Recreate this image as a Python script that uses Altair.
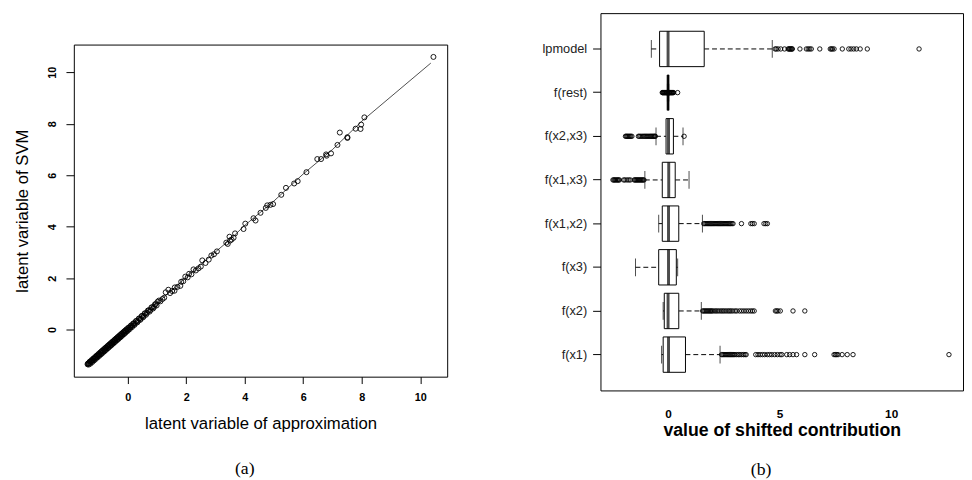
import altair as alt
import pandas as pd

FONT = "Liberation Sans"
SERIF = "Liberation Serif"

# ---------------- panel (a): scatter ----------------
dense_x = [-1.37, -1.34, -1.31, -1.28, -1.25, -1.22, -1.19, -1.16, -1.13, -1.1, -1.07, -1.04, -1.01, -0.98, -0.95,
           -0.92, -0.89, -0.86, -0.83, -0.8, -0.77, -0.74, -0.71, -0.68, -0.65, -0.62, -0.59, -0.56, -0.53, -0.5,
           -0.47, -0.44, -0.41, -0.38, -0.35, -0.32, -0.29, -0.26, -0.23, -0.2, -0.17, -0.14, -0.11, -0.08, -0.05,
           -0.02, 0.01, 0.05, 0.09, 0.13, 0.17, 0.21, 0.25, 0.3, 0.35, 0.4, 0.45, 0.5, 0.55, 0.6, 0.66, 0.72,
           0.78, 0.84, 0.9, 0.96]
dense_y = [-1.35, -1.31, -1.3, -1.25, -1.24, -1.2, -1.19, -1.13, -1.13, -1.08, -1.07, -1.01, -1.01, -0.95, -0.97,
           -0.88, -0.91, -0.82, -0.85, -0.76, -0.79, -0.7, -0.73, -0.64, -0.67, -0.58, -0.61, -0.52, -0.55, -0.46,
           -0.49, -0.4, -0.43, -0.34, -0.37, -0.28, -0.31, -0.22, -0.25, -0.16, -0.19, -0.1, -0.13, -0.04, -0.07,
           0.02, -0.01, 0.08, 0.08, 0.16, 0.15, 0.24, 0.23, 0.33, 0.33, 0.43, 0.42, 0.53, 0.53, 0.63, 0.65, 0.75,
           0.76, 0.87, 0.88, 0.99]
dense2_x = [-1.36, -1.33, -1.3, -1.27, -1.24, -1.21, -1.18, -1.15, -1.12, -1.09, -1.06, -1.03, -1.0, -0.97, -0.94,
            -0.91, -0.88, -0.85, -0.82, -0.79, -0.76, -0.73, -0.7, -0.67, -0.64, -0.61, -0.58, -0.55, -0.52, -0.49,
            -0.46, -0.43, -0.4, -0.37, -0.34, -0.31, -0.28, -0.25, -0.22, -0.19, -0.16, -0.13, -0.1, -0.07, -0.04,
            0.0, 0.03, 0.07, 0.11, 0.15, 0.19, 0.23, 0.28, 0.33, 0.38, 0.43, 0.48, 0.53, 0.58, 0.63, 0.69, 0.75,
            0.81, 0.87, 0.93, 0.99]
dense2_y = [-1.32, -1.36, -1.25, -1.32, -1.19, -1.26, -1.13, -1.2, -1.07, -1.14, -1.01, -1.08, -0.95, -1.02, -0.89,
            -0.96, -0.83, -0.9, -0.77, -0.84, -0.71, -0.78, -0.65, -0.72, -0.59, -0.66, -0.53, -0.6, -0.47, -0.54,
            -0.41, -0.48, -0.35, -0.42, -0.29, -0.36, -0.23, -0.3, -0.17, -0.24, -0.11, -0.18, -0.05, -0.12, 0.01,
            -0.05, 0.08, 0.02, 0.16, 0.1, 0.24, 0.18, 0.33, 0.28, 0.43, 0.38, 0.53, 0.48, 0.63, 0.58, 0.74, 0.7,
            0.86, 0.82, 0.98, 0.94]
sparse_x = [1.02, 1.07, 1.12, 1.19, 1.25, 1.3, 1.39, 1.45, 1.52, 1.6, 1.61, 1.7, 1.8, 1.83, 1.9, 1.97, 2.05, 2.1,
            2.18, 2.25, 2.33, 2.42, 2.5, 2.55, 2.66, 2.77, 2.86, 2.95, 3.05, 3.37, 3.42, 3.48, 3.5, 3.55, 3.62,
            3.67, 3.96, 4.02, 4.3, 4.37, 4.54, 4.72, 4.77, 4.88, 4.97, 5.25, 5.41, 5.69, 5.81, 6.11, 6.48, 6.61,
            6.78, 6.8, 6.95, 7.17, 7.25, 7.51, 7.51, 7.79, 7.96, 7.98, 8.09, 10.45]
sparse_y = [1.08, 1.13, 1.1, 1.19, 1.24, 1.45, 1.55, 1.42, 1.5, 1.51, 1.64, 1.66, 1.7, 1.86, 1.88, 2.06, 2.03, 2.17,
            2.15, 2.34, 2.3, 2.38, 2.45, 2.69, 2.59, 2.72, 2.88, 2.93, 3.04, 3.38, 3.33, 3.61, 3.46, 3.5, 3.57,
            3.74, 3.91, 4.12, 4.33, 4.24, 4.54, 4.73, 4.83, 4.85, 4.88, 5.24, 5.51, 5.68, 5.77, 6.12, 6.63, 6.63,
            6.81, 6.76, 6.85, 7.18, 7.66, 7.48, 7.45, 7.81, 7.8, 7.97, 8.25, 10.6]
line_x = [-1.37, 1.0, 2.0, 3.0, 3.5, 4.0, 5.0, 6.0, 7.0, 8.0, 10.36]
line_y = [-1.36, 1.02, 2.03, 3.02, 3.5, 4.05, 5.0, 6.05, 7.0, 8.1, 10.36]
left_ticks = [0, 2, 4, 6, 8, 10]

# ---------------- panel (b): boxplots ----------------
categories = ["lpmodel", "f(rest)", "f(x2,x3)", "f(x1,x3)", "f(x1,x2)", "f(x3)", "f(x2)", "f(x1)"]
whisker_lo = [-0.75, -0.03, -0.54, -1.04, -0.42, -1.46, -0.22, -0.29]
q1 = [-0.38, -0.02, -0.09, -0.26, -0.26, -0.42, -0.17, -0.22]
median = [0.0, 0.0, 0.02, 0.03, 0.02, 0.02, 0.0, 0.02]
q3 = [1.62, 0.02, 0.24, 0.32, 0.48, 0.37, 0.48, 0.78]
whisker_hi = [4.67, 0.03, 0.67, 0.94, 1.54, 0.43, 1.49, 2.33]

out_lpmodel = [4.8, 4.85, 4.93, 5.05, 5.22, 5.38, 5.42, 5.45, 5.48, 5.52, 5.55, 5.57, 5.91, 6.2, 6.28, 6.35, 6.42,
               6.8, 7.27, 7.32, 7.37, 7.44, 7.81, 8.1, 8.2, 8.32, 8.44, 8.61, 8.93, 11.25]
out_rest = [-0.26, -0.24, -0.22, -0.2, -0.18, -0.16, -0.14, -0.12, -0.1, -0.08, -0.06, -0.05, -0.04, 0.04, 0.05,
            0.06, 0.08, 0.1, 0.12, 0.14, 0.16, 0.18, 0.2, 0.22, 0.25, 0.43]
out_x2x3 = [-1.91, -1.87, -1.83, -1.79, -1.75, -1.71, -1.67, -1.62, -1.33, -1.28, -1.22, -1.16, -1.1, -1.05, -1.0,
            -0.95, -0.9, -0.85, -0.8, -0.76, -0.72, -0.68, -0.64, -0.6, -0.57, 0.72]
out_x1x3 = [-2.47, -2.43, -2.39, -2.35, -2.3, -2.26, -2.22, -2.18, -1.99, -1.93, -1.84, -1.76, -1.69, -1.52, -1.48,
            -1.44, -1.4, -1.36, -1.32, -1.28, -1.24, -1.2, -1.16, -1.12, -1.08]
out_x1x2 = [1.6, 1.65, 1.7, 1.75, 1.8, 1.85, 1.9, 1.95, 2.0, 2.05, 2.1, 2.15, 2.2, 2.25, 2.3, 2.35, 2.4, 2.45, 2.5,
            2.55, 2.6, 2.65, 2.7, 2.75, 2.8, 2.86, 2.91, 3.29, 3.71, 3.78, 3.86, 4.3, 4.38, 4.45]
out_x3 = []
out_x2 = [1.55, 1.6, 1.65, 1.7, 1.75, 1.8, 1.85, 1.9, 1.95, 2.0, 2.08, 2.15, 2.22, 2.3, 2.38, 2.45, 2.52, 2.6, 2.68,
          2.75, 2.82, 2.9, 3.0, 3.08, 3.2, 3.3, 3.4, 3.5, 3.6, 3.7, 3.78, 3.86, 4.81, 4.87, 4.93, 5.03, 5.6, 6.13]
out_x1 = [2.4, 2.45, 2.5, 2.55, 2.6, 2.65, 2.7, 2.75, 2.8, 2.85, 2.9, 2.95, 3.0, 3.08, 3.15, 3.22, 3.3, 3.38, 3.45,
          3.5, 3.93, 4.03, 4.13, 4.23, 4.33, 4.45, 4.55, 4.65, 4.78, 4.9, 5.02, 5.1, 5.32, 5.45, 5.6, 5.76, 6.13,
          6.57, 7.44, 7.5, 7.56, 7.62, 7.8, 8.03, 8.29, 12.59]
outliers = [out_lpmodel, out_rest, out_x2x3, out_x1x3, out_x1x2, out_x3, out_x2, out_x1]
right_ticks = [0, 5, 10]

# ---------------- build panel (a) ----------------
scatter_df = pd.DataFrame({"x": dense_x + dense2_x + sparse_x, "y": dense_y + dense2_y + sparse_y})
line_df = pd.DataFrame({"x": line_x, "y": line_y})

xs = alt.Scale(domain=[-1.84, 10.92], nice=False, zero=False)
ys = alt.Scale(domain=[-1.83, 11.08], nice=False, zero=False)

x_axis_a = alt.Axis(values=left_ticks, title="latent variable of approximation", grid=False, domain=False,
                    tickSize=7, tickColor="black", labelFont=FONT, labelFontSize=11, labelFontWeight="bold",
                    labelColor="black", labelPadding=8, titleFont=FONT, titleFontSize=17,
                    titleFontWeight="normal", titleColor="black", titlePadding=14)
y_axis_a = alt.Axis(values=left_ticks, title="latent variable of SVM", grid=False, domain=False,
                    tickSize=8, tickColor="black", labelFont=FONT, labelFontSize=11, labelFontWeight="bold",
                    labelColor="black", labelAngle=270, labelAlign="center", labelBaseline="bottom",
                    labelPadding=9, titleFont=FONT, titleFontSize=17, titleFontWeight="normal",
                    titleColor="black", titlePadding=15)

line = alt.Chart(line_df).mark_line(color="black", strokeWidth=0.7).encode(
    x=alt.X("x:Q", scale=xs, axis=x_axis_a),
    y=alt.Y("y:Q", scale=ys, axis=y_axis_a),
)
points = alt.Chart(scatter_df).mark_point(shape="circle", filled=False, color="black", size=26,
                                          strokeWidth=0.9, opacity=1).encode(
    x=alt.X("x:Q", scale=xs, axis=x_axis_a),
    y=alt.Y("y:Q", scale=ys, axis=y_axis_a),
)
left = alt.layer(line, points).properties(
    width=380, height=338,
    title=alt.TitleParams("(a)", orient="bottom", font=SERIF, fontSize=18, fontWeight="normal",
                          color="black", offset=29, frame="group", dx=-16),
)

spacer = alt.Chart(pd.DataFrame({"t": [""]})).mark_text().encode(text="t:N").properties(
    width=380, height=30, view=alt.ViewBackground(stroke="transparent"))

left_col = alt.vconcat(spacer, left, spacing=0)

# ---------------- build panel (b) ----------------
box_df = pd.DataFrame({"cat": categories, "wlo": whisker_lo, "q1": q1, "med": median, "q3": q3,
                       "whi": whisker_hi})
out_rows = []
for c, vals in zip(categories, outliers):
    for v in vals:
        out_rows.append({"cat": c, "v": v})
out_df = pd.DataFrame(out_rows)

bx = alt.Scale(domain=[-3.03, 13.22], nice=False, zero=False)
by = alt.Scale(domain=categories, paddingInner=0, paddingOuter=0.32)

x_axis_b = alt.Axis(values=right_ticks, title="value of shifted contribution", grid=False, domain=False,
                    ticks=False, tickSize=0, labelFont=FONT, labelFontSize=12, labelFontWeight="bold",
                    labelColor="black", labelPadding=19, titleFont=FONT, titleFontSize=18,
                    titleFontWeight="bold", titleColor="black", titlePadding=2)
y_axis_b = alt.Axis(title=None, grid=False, domain=False, ticks=True, tickSize=8, tickColor="black",
                    labelFont=FONT, labelFontSize=13, labelColor="#222", labelPadding=6)

Y = alt.Y("cat:N", scale=by, axis=y_axis_b, sort=categories)

base = alt.Chart(box_df)
whisk_hi = base.mark_rule(color="black", strokeWidth=1, strokeDash=[5, 3]).encode(
    x=alt.X("q3:Q", scale=bx, axis=x_axis_b), x2="whi:Q", y=Y)
whisk_lo = base.mark_rule(color="black", strokeWidth=1, strokeDash=[5, 3]).encode(
    x=alt.X("wlo:Q", scale=bx, axis=x_axis_b), x2="q1:Q", y=Y)
staple_hi = base.mark_tick(color="black", size=18, thickness=1).encode(
    x=alt.X("whi:Q", scale=bx, axis=x_axis_b), y=Y)
staple_lo = base.mark_tick(color="black", size=18, thickness=1).encode(
    x=alt.X("wlo:Q", scale=bx, axis=x_axis_b), y=Y)
box = base.mark_bar(size=36, fill="white", stroke="black", strokeWidth=1).encode(
    x=alt.X("q1:Q", scale=bx, axis=x_axis_b), x2="q3:Q", y=Y)
med = base.mark_tick(color="black", size=36, thickness=3).encode(
    x=alt.X("med:Q", scale=bx, axis=x_axis_b), y=Y)
outs = alt.Chart(out_df).mark_point(shape="circle", filled=False, color="black", size=20,
                                    strokeWidth=0.9, opacity=1).encode(
    x=alt.X("v:Q", scale=bx, axis=x_axis_b), y=Y)

right = alt.layer(whisk_hi, whisk_lo, staple_hi, staple_lo, box, med, outs).properties(
    width=369, height=384,
    title=alt.TitleParams("(b)", orient="bottom", font=SERIF, fontSize=18, fontWeight="normal",
                          color="black", offset=22, frame="group", dx=-21),
)

chart = alt.hconcat(left_col, right, spacing=94).properties(
    padding={"left": 5, "top": 0, "right": 0, "bottom": 0},
).configure(font=FONT, view=alt.ViewConfig(stroke="black", strokeWidth=1))

chart.save("out.html", embed_options={"renderer": "svg", "actions": False})
